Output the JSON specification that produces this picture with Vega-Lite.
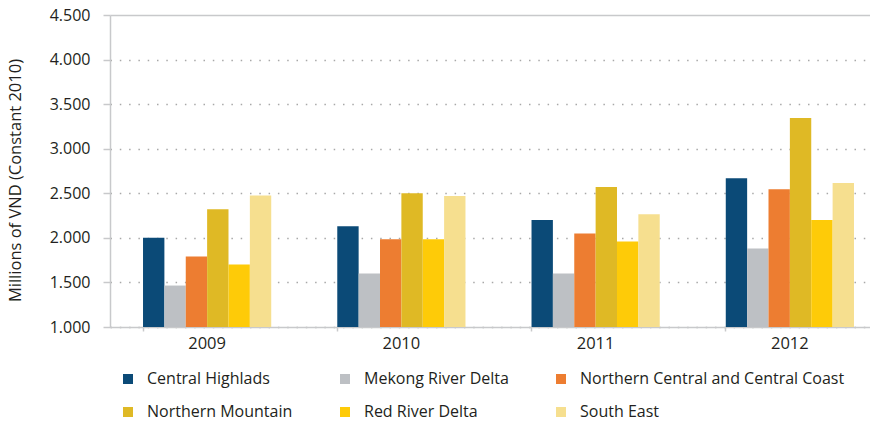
{
  "$schema": "https://vega.github.io/schema/vega-lite/v6.json",
  "width": 760,
  "height": 312,
  "autosize": "none",
  "padding": {"left": 110, "top": 15, "right": 0, "bottom": 94},
  "background": "white",
  "config": {
    "font": "Open Sans",
    "view": {"stroke": null},
    "axis": {"labelColor": "#231f20", "titleColor": "#231f20"}
  },
  "data": {
    "values": [
      {"year": "2009", "region": "Central Highlads", "value": 2000},
      {"year": "2009", "region": "Mekong River Delta", "value": 1465},
      {"year": "2009", "region": "Northern Central and Central Coast", "value": 1790},
      {"year": "2009", "region": "Northern Mountain", "value": 2320},
      {"year": "2009", "region": "Red River Delta", "value": 1700},
      {"year": "2009", "region": "South East", "value": 2475},
      {"year": "2010", "region": "Central Highlads", "value": 2130},
      {"year": "2010", "region": "Mekong River Delta", "value": 1600},
      {"year": "2010", "region": "Northern Central and Central Coast", "value": 1985},
      {"year": "2010", "region": "Northern Mountain", "value": 2500},
      {"year": "2010", "region": "Red River Delta", "value": 1985},
      {"year": "2010", "region": "South East", "value": 2470},
      {"year": "2011", "region": "Central Highlads", "value": 2200},
      {"year": "2011", "region": "Mekong River Delta", "value": 1600},
      {"year": "2011", "region": "Northern Central and Central Coast", "value": 2050},
      {"year": "2011", "region": "Northern Mountain", "value": 2570},
      {"year": "2011", "region": "Red River Delta", "value": 1960},
      {"year": "2011", "region": "South East", "value": 2265},
      {"year": "2012", "region": "Central Highlads", "value": 2670},
      {"year": "2012", "region": "Mekong River Delta", "value": 1880},
      {"year": "2012", "region": "Northern Central and Central Coast", "value": 2545},
      {"year": "2012", "region": "Northern Mountain", "value": 3345},
      {"year": "2012", "region": "Red River Delta", "value": 2200},
      {"year": "2012", "region": "South East", "value": 2615}
    ]
  },
  "mark": {"type": "bar"},
  "encoding": {
    "x": {
      "field": "year",
      "type": "nominal",
      "scale": {"paddingInner": 0.34, "paddingOuter": 0.17, "range": [0, 777]},
      "axis": {
        "title": null,
        "labelAngle": 0,
        "labelFontSize": 16.5,
        "labelPadding": 4,
        "tickSize": 4,
        "tickColor": "#c8c9cb",
        "tickWidth": 1.5,
        "bandPosition": 0,
        "domainColor": "#c8c9cb",
        "domainWidth": 1.5,
        "grid": false
      }
    },
    "xOffset": {
      "field": "region",
      "type": "nominal",
      "sort": ["Central Highlads", "Mekong River Delta", "Northern Central and Central Coast", "Northern Mountain", "Red River Delta", "South East"]
    },
    "y": {
      "field": "value",
      "type": "quantitative",
      "scale": {"domain": [1000, 4500], "zero": false, "nice": false},
      "axis": {
        "title": "Millions of VND (Constant 2010)",
        "titleFontSize": 16.5,
        "titleFontWeight": "normal",
        "titleX": -87,
        "titleY": 165,
        "values": [1000, 1500, 2000, 2500, 3000, 3500, 4000, 4500],
        "labelExpr": "replace(format(datum.value, ','), ',', '.')",
        "labelFontSize": 16,
        "labelPadding": 13,
        "tickSize": 7,
        "tickColor": "#c8c9cb",
        "tickWidth": 1.5,
        "domainColor": "#c8c9cb",
        "domainWidth": 1.5,
        "grid": true,
        "gridColor": {"condition": {"test": "datum.value === 4500", "value": "#c8c9cb"}, "value": "#a8a8a8"},
        "gridWidth": {"condition": {"test": "datum.value === 4500", "value": 1.5}, "value": 1.5},
        "gridDash": {"condition": {"test": "datum.value === 4500", "value": []}, "value": [1.5, 7.8]}
      }
    },
    "y2": {"datum": 1000},
    "color": {
      "field": "region",
      "type": "nominal",
      "scale": {
        "domain": ["Central Highlads", "Mekong River Delta", "Northern Central and Central Coast", "Northern Mountain", "Red River Delta", "South East"],
        "range": ["#0b4a77", "#bdc0c4", "#ed7d31", "#dfb925", "#fecb08", "#f6df8f"]
      },
      "legend": {
        "title": null,
        "orient": "none",
        "legendX": 10,
        "legendY": 356,
        "direction": "horizontal",
        "columns": 3,
        "columnPadding": 44,
        "rowPadding": 17,
        "padding": 0,
        "symbolType": "square",
        "symbolSize": 100,
        "symbolStrokeWidth": 0,
        "labelFontSize": 16,
        "labelOffset": 11,
        "labelColor": "#231f20",
        "labelLimit": 400
      }
    }
  }
}
